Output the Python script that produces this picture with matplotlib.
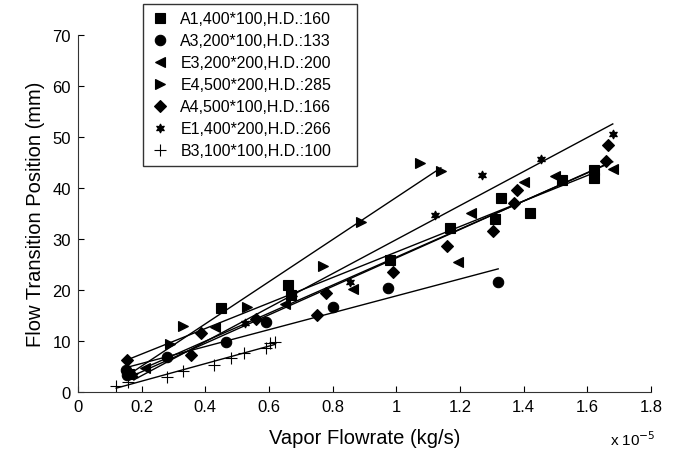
import numpy as np
import matplotlib
matplotlib.use('Agg')
import matplotlib.pyplot as plt

plt.rcParams['font.family'] = ['Liberation Sans', 'DejaVu Sans']

# Data (x in units of 1e-5 kg/s, y in mm)
a1_x = [0.16, 0.45, 0.66, 0.67, 0.98, 1.17, 1.31, 1.33, 1.42, 1.52, 1.62, 1.62]
a1_y = [3.5, 16.4, 21.0, 19.0, 25.9, 32.2, 33.9, 38.1, 35.2, 41.5, 43.5, 42.0]

a3_x = [0.15, 0.155, 0.28, 0.465, 0.59, 0.80, 0.975, 1.32]
a3_y = [4.4, 3.3, 6.8, 9.9, 13.7, 16.7, 20.5, 21.5]

e3_x = [0.21, 0.43, 0.65, 0.865, 1.195, 1.235, 1.40, 1.50, 1.68]
e3_y = [4.7, 12.7, 17.2, 20.3, 25.5, 35.2, 41.1, 42.3, 43.7]

e4_x = [0.16, 0.29, 0.33, 0.53, 0.77, 0.89, 1.075, 1.14]
e4_y = [3.5, 9.4, 12.9, 16.7, 24.8, 33.3, 45.0, 43.4]

a4_x = [0.155, 0.355, 0.385, 0.56, 0.75, 0.78, 0.99, 1.16, 1.305, 1.37, 1.38, 1.66, 1.665]
a4_y = [6.3, 7.3, 11.6, 14.3, 15.1, 19.4, 23.5, 28.7, 31.5, 37.0, 39.7, 45.4, 48.5]

e1_x = [0.175, 0.525, 0.675, 0.855, 1.12, 1.27, 1.455, 1.68]
e1_y = [3.3, 13.5, 19.2, 21.5, 34.7, 42.5, 45.7, 50.6]

b3_x = [0.12, 0.158, 0.279, 0.331, 0.427, 0.48, 0.523, 0.59, 0.603, 0.619]
b3_y = [1.1, 1.9, 3.0, 4.2, 5.4, 6.7, 7.6, 8.6, 9.6, 9.9]

labels = ['A1,400*100,H.D.:160', 'A3,200*100,H.D.:133', 'E3,200*200,H.D.:200',
          'E4,500*200,H.D.:285', 'A4,500*100,H.D.:166', 'E1,400*200,H.D.:266',
          'B3,100*100,H.D.:100']

series = [(a1_x, a1_y, 's', 6.5), (a3_x, a3_y, 'o', 7.5), (e3_x, e3_y, '<', 7.5),
          (e4_x, e4_y, '>', 7.5), (a4_x, a4_y, 'D', 6), (e1_x, e1_y, (6, 1, 0), 6.5),
          (b3_x, b3_y, '+', 8)]

fig = plt.figure(figsize=(6.8, 4.56), dpi=100)
ax = fig.add_axes([0.1147, 0.138, 0.8426, 0.783])

for (x, y, m, ms), lab in zip(series, labels):
    x = np.array(x)
    y = np.array(y)
    ax.plot(x, y, linestyle='none', marker=m, markersize=ms, color='black',
            markeredgewidth=0.8, label=lab)
    # linear fit over the data range
    k, b = np.polyfit(x, y, 1)
    xs = np.array([x.min(), x.max()])
    ax.plot(xs, k * xs + b, color='black', linewidth=1.0)

ax.set_xlim(0, 1.8)
ax.set_ylim(0, 70)
ax.set_xticks(np.arange(0, 1.81, 0.2))
ax.set_xticklabels(['0', '0.2', '0.4', '0.6', '0.8', '1', '1.2', '1.4', '1.6', '1.8'])
ax.set_yticks(range(0, 71, 10))
ax.tick_params(direction='in', labelsize=12, length=4, width=0.8, pad=5)
ax.spines['top'].set_visible(False)
ax.spines['right'].set_visible(False)
for s in ['left', 'bottom']:
    ax.spines[s].set_color('#333333')

ax.set_xlabel('Vapor Flowrate (kg/s)', fontsize=14.5, labelpad=10)
ax.set_ylabel('Flow Transition Position (mm)', fontsize=14.5, labelpad=5)
fig.text(0.897, 0.022, r'x 10$^{-5}$', fontsize=11)

leg = ax.legend(loc='upper left', bbox_to_anchor=(0.210, 0.642, 0.315, 0.347),
                bbox_transform=fig.transFigure, mode='expand',
                fontsize=11.5, frameon=True, fancybox=False, edgecolor='black',
                labelspacing=0.44, handletextpad=0.6, borderpad=0.45, handlelength=1.3,
                borderaxespad=0)
leg.get_frame().set_linewidth(1.0)

fig.savefig('out.png', dpi=100)
